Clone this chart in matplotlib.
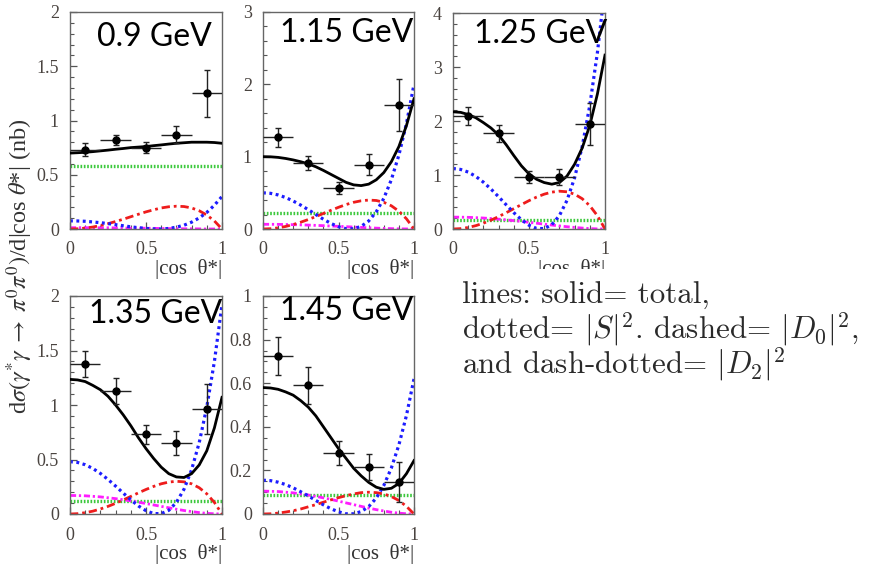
import numpy as np
import matplotlib
matplotlib.use("Agg")
import matplotlib.pyplot as plt
from matplotlib.ticker import MultipleLocator, FuncFormatter
from matplotlib.patches import Rectangle

plt.rcParams["font.family"] = ["Liberation Serif", "DejaVu Serif"]

# ---------------- data ----------------
energies = ["0.9 GeV", "1.15 GeV", "1.25 GeV", "1.35 GeV", "1.45 GeV"]
ymax = [2, 3, 4, 2, 1]
ymajor = [0.5, 1, 1, 0.5, 0.2]
yminor = [0.1, 0.2, 0.2, 0.1, 0.05]

cos_grid = [0.0, 0.05, 0.1, 0.15, 0.2, 0.25, 0.3, 0.35, 0.4, 0.45, 0.5,
            0.55, 0.6, 0.65, 0.7, 0.75, 0.8, 0.85, 0.9, 0.95, 1.0]

# data points
cos_bins = [0.1, 0.3, 0.5, 0.7, 0.9]
cos_halfwidth = [0.1, 0.1, 0.1, 0.1, 0.1]
xs_09 = [0.73, 0.82, 0.75, 0.87, 1.25]
err_09 = [0.06, 0.05, 0.05, 0.075, 0.22]
xs_115 = [1.27, 0.91, 0.57, 0.89, 1.71]
err_115 = [0.13, 0.10, 0.08, 0.145, 0.36]
xs_125 = [2.10, 1.77, 0.97, 0.97, 1.95]
err_125 = [0.165, 0.155, 0.11, 0.15, 0.39]
xs_135 = [1.38, 1.13, 0.73, 0.65, 0.96]
err_135 = [0.12, 0.12, 0.09, 0.11, 0.23]
xs_145 = [0.725, 0.59, 0.28, 0.215, 0.145]
err_145 = [0.088, 0.085, 0.057, 0.058, 0.092]

# |S|^2 (flat)
s_wave = [0.58, 0.22, 0.17, 0.12, 0.088]

# totals
total_09 = [0.70, 0.703, 0.707, 0.713, 0.72, 0.727, 0.735, 0.742, 0.75, 0.755, 0.76,
            0.768, 0.775, 0.783, 0.79, 0.795, 0.80, 0.80, 0.80, 0.797, 0.79]
total_115 = [1.0, 0.998, 0.99, 0.975, 0.955, 0.93, 0.90, 0.86, 0.81, 0.755, 0.70,
             0.645, 0.61, 0.60, 0.62, 0.68, 0.78, 0.93, 1.14, 1.43, 1.80]
total_125 = [2.17, 2.16, 2.12, 2.06, 1.97, 1.87, 1.74, 1.56, 1.36, 1.17, 1.02,
             0.92, 0.86, 0.83, 0.86, 0.98, 1.20, 1.50, 1.92, 2.50, 3.22]
total_135 = [1.235, 1.23, 1.215, 1.18, 1.14, 1.08, 1.0, 0.91, 0.81, 0.70, 0.60,
             0.51, 0.43, 0.37, 0.34, 0.335, 0.37, 0.45, 0.58, 0.79, 1.07]
total_145 = [0.58, 0.578, 0.572, 0.56, 0.545, 0.52, 0.49, 0.45, 0.40, 0.35, 0.30,
             0.255, 0.21, 0.175, 0.145, 0.123, 0.113, 0.118, 0.14, 0.185, 0.245]

# |D0|^2 (blue)
d0_09 = [0.075, 0.074, 0.071, 0.065, 0.058, 0.050, 0.040, 0.030, 0.020, 0.012, 0.005,
         0.001, 0.000, 0.005, 0.017, 0.035, 0.063, 0.102, 0.153, 0.219, 0.300]
d0_115 = [0.5, 0.493, 0.471, 0.435, 0.387, 0.330, 0.267, 0.200, 0.135, 0.077, 0.031,
          0.004, 0.003, 0.036, 0.111, 0.237, 0.423, 0.682, 1.023, 1.458, 2.0]
d0_125 = [1.12, 1.103, 1.054, 0.974, 0.867, 0.739, 0.597, 0.448, 0.302, 0.172, 0.070,
          0.010, 0.007, 0.080, 0.248, 0.530, 0.948, 1.527, 2.290, 3.266, 4.48]
d0_135 = [0.48, 0.473, 0.452, 0.418, 0.372, 0.317, 0.256, 0.192, 0.130, 0.074, 0.030,
          0.004, 0.003, 0.034, 0.106, 0.227, 0.406, 0.654, 0.982, 1.400, 1.92]
d0_145 = [0.155, 0.153, 0.146, 0.135, 0.120, 0.102, 0.083, 0.062, 0.042, 0.024, 0.010,
          0.001, 0.001, 0.011, 0.034, 0.073, 0.131, 0.211, 0.317, 0.452, 0.62]

# |D2|^2 (red dash-dotted)
d2_09 = [0, 0.002, 0.008, 0.018, 0.032, 0.049, 0.069, 0.090, 0.113, 0.136, 0.158,
         0.177, 0.194, 0.205, 0.210, 0.207, 0.194, 0.168, 0.129, 0.074, 0]
d2_115 = [0, 0.004, 0.016, 0.035, 0.062, 0.094, 0.131, 0.172, 0.215, 0.258, 0.30,
          0.338, 0.369, 0.390, 0.40, 0.394, 0.369, 0.321, 0.246, 0.141, 0]
d2_125 = [0, 0.007, 0.028, 0.062, 0.108, 0.164, 0.230, 0.301, 0.377, 0.452, 0.525,
          0.591, 0.645, 0.683, 0.70, 0.689, 0.645, 0.561, 0.431, 0.246, 0]
d2_135 = [0, 0.003, 0.012, 0.026, 0.046, 0.070, 0.098, 0.129, 0.161, 0.194, 0.225,
          0.253, 0.277, 0.293, 0.30, 0.295, 0.277, 0.241, 0.185, 0.106, 0]
d2_145 = [0, 0.001, 0.004, 0.009, 0.015, 0.023, 0.033, 0.043, 0.054, 0.065, 0.075,
          0.084, 0.092, 0.098, 0.10, 0.098, 0.092, 0.080, 0.062, 0.035, 0]

# magenta component
mg_09 = [0.012, 0.012, 0.012, 0.011, 0.011, 0.011, 0.010, 0.009, 0.008, 0.008, 0.007,
         0.006, 0.005, 0.004, 0.003, 0.002, 0.002, 0.001, 0.0, 0.0, 0.0]
mg_115 = [0.065, 0.065, 0.064, 0.062, 0.060, 0.057, 0.054, 0.050, 0.046, 0.041, 0.037,
          0.032, 0.027, 0.022, 0.017, 0.012, 0.008, 0.005, 0.002, 0.001, 0]
mg_125 = [0.22, 0.219, 0.216, 0.210, 0.203, 0.193, 0.182, 0.169, 0.155, 0.140, 0.124,
          0.107, 0.090, 0.073, 0.057, 0.042, 0.029, 0.017, 0.008, 0.002, 0]
mg_135 = [0.17, 0.169, 0.167, 0.162, 0.157, 0.149, 0.141, 0.131, 0.120, 0.108, 0.096,
          0.083, 0.070, 0.057, 0.044, 0.032, 0.022, 0.013, 0.006, 0.002, 0]
mg_145 = [0.105, 0.104, 0.103, 0.100, 0.097, 0.092, 0.087, 0.081, 0.074, 0.067, 0.059,
          0.051, 0.043, 0.035, 0.027, 0.020, 0.014, 0.008, 0.004, 0.001, 0]

points = [xs_09, xs_115, xs_125, xs_135, xs_145]
errors = [err_09, err_115, err_125, err_135, err_145]
totals = [total_09, total_115, total_125, total_135, total_145]
d0s = [d0_09, d0_115, d0_125, d0_135, d0_145]
d2s = [d2_09, d2_115, d2_125, d2_135, d2_145]
mgs = [mg_09, mg_115, mg_125, mg_135, mg_145]

# ---------------- layout (pixels) ----------------
W, H = 872, 566
boxes = [(70, 12, 222, 229), (263, 12, 414, 229), (453, 13, 605, 229),
         (70, 296, 222, 514), (263, 296, 414, 514)]
label_pos = [(212, 46), (413, 42), (607, 43), (222, 323), (413, 320)]

fig = plt.figure(figsize=(W / 100, H / 100), dpi=100)
fig.patch.set_facecolor("white")

tick_color = "#4a4440"


def fx(px):
    return px / W


def fy(py):
    return 1 - py / H


fmt = FuncFormatter(lambda v, p: f"{v:g}")

for i in range(5):
    l, t, r, b = boxes[i]
    ax = fig.add_axes([fx(l), fy(b), (r - l) / W, (b - t) / H])
    ax.set_xlim(0, 1)
    ax.set_ylim(0, ymax[i])
    grid = np.array(cos_grid)
    ax.plot(grid, np.full(len(grid), s_wave[i]), color="#3cc83c", lw=2.4,
            linestyle=(0, (0.5, 0.5)), zorder=2)
    ax.plot(grid, mgs[i], color="#ff1cff", lw=2.0,
            linestyle=(0, (2.2, 1.0, 0.8, 1.0)), zorder=2.1)
    ax.plot(grid, d2s[i], color="#ee1c1c", lw=2.0,
            linestyle=(0, (3.0, 1.4, 1.0, 1.4)), zorder=2.2)
    ax.plot(grid, d0s[i], color="#1c1cff", lw=2.3,
            linestyle=(0, (0.9, 1.1)), zorder=2.3)
    ax.plot(grid, totals[i], color="black", lw=2.0, zorder=3)
    ax.errorbar(cos_bins, points[i], yerr=errors[i], fmt="none",
                ecolor="#222222", elinewidth=1.0, capsize=2.5, capthick=1.0, zorder=4)
    ax.errorbar(cos_bins, points[i], xerr=cos_halfwidth, fmt="o",
                color="black", ms=5, ecolor="#222222", elinewidth=1.0,
                capsize=0, zorder=5)

    ax.xaxis.set_major_locator(MultipleLocator(0.5))
    ax.xaxis.set_minor_locator(MultipleLocator(0.1))
    ax.yaxis.set_major_locator(MultipleLocator(ymajor[i]))
    ax.yaxis.set_minor_locator(MultipleLocator(yminor[i]))
    ax.xaxis.set_major_formatter(fmt)
    ax.yaxis.set_major_formatter(fmt)
    ax.tick_params(which="both", direction="in", top=False, right=False,
                   color="#555555", labelcolor=tick_color, labelsize=13)
    ax.tick_params(which="major", length=5, width=0.9)
    ax.tick_params(which="minor", length=3, width=0.8)
    ax.tick_params(axis="x", pad=9)
    ax.tick_params(axis="y", pad=8)
    for sp in ax.spines.values():
        sp.set_color("#666666")
        sp.set_linewidth(1.0)

    # x label
    fig.text(fx(r), fy(b + 45), "|cos  θ*|", ha="right", va="baseline",
             fontsize=15, color="#333333")
    # energy label
    fig.text(fx(label_pos[i][0]), fy(label_pos[i][1]), energies[i],
             ha="right", va="baseline", fontsize=23, family="Lato", color="black",
             zorder=6)

# white cover over the lower-right region (hides part of the third x label)
fig.add_artist(Rectangle((fx(440), 0), (W - 440) / W, fy(269),
                         transform=fig.transFigure, facecolor="white",
                         edgecolor="none", zorder=10))

# y label
fig.text(fx(20), fy(266),
         r"d$\sigma(\gamma^{*}\gamma\;\rightarrow\;\pi^0\pi^0)$/d|cos $\theta$*| (nb)",
         rotation=90, ha="center", va="center", fontsize=17.5,
         math_fontfamily="stix", color="#333333")

# note text
note_lines = ["lines: solid= total,",
              r"dotted= $|S|^2$. dashed= $|D_0|^2$,",
              r"and dash-dotted= $|D_2|^2$"]
note_base = [304, 339, 374]
for txt, yb in zip(note_lines, note_base):
    fig.text(fx(462), fy(yb), txt, ha="left", va="baseline", fontsize=22.3,
             family="cmr10", math_fontfamily="cm", color="#2a2a2a", zorder=11)

fig.savefig("out.png", dpi=100)
